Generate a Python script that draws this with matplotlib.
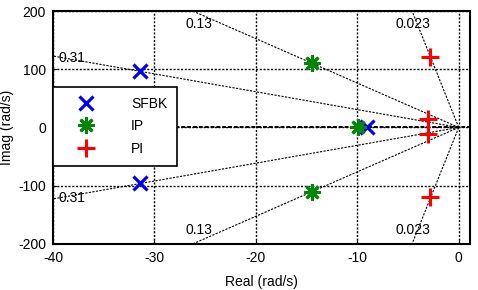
import matplotlib
matplotlib.use('Agg')
import matplotlib.pyplot as plt
import numpy as np

plt.rcParams['font.family'] = ['Liberation Sans', 'DejaVu Sans']
plt.rcParams['axes.unicode_minus'] = False

# pole locations (rad/s)
sfbk_re = [-31.4, -31.4, -9.0]
sfbk_im = [97, -96, 0]
ip_re = [-14.5, -14.5, -9.9]
ip_im = [111, -111, 0]
pi_re = [-2.8, -2.8, -3.0, -3.0]
pi_im = [121, -120, 14, -11]

zetas = [0.31, 0.13, 0.023]
zeta_labels = ['0.31', '0.13', '0.023']

xticks = [-40, -30, -20, -10, 0]
yticks = [-200, -100, 0, 100, 200]

fig = plt.figure(figsize=(4.78, 2.9), dpi=100)
ax = fig.add_axes([0.111, 0.159, 0.872, 0.803])

xmin, xmax = -40, 1.1
ymin, ymax = -200, 200

# lignes d'amortissement constant
for z in zetas:
    k = np.sqrt(1 - z**2) / z
    for s in (1, -1):
        x_end = max(xmin, -ymax / k)
        ax.plot([0, x_end], [0, s * k * (-x_end)], color='black', ls=(0, (2, 1.2)),
                lw=0.8, zorder=1)

# grille
for xt in xticks:
    ax.axvline(xt, color='black', ls=(0, (1.5, 1.2)), lw=1.0, zorder=1)
for yt in yticks:
    ax.axhline(yt, color='black', ls=(0, (1.5, 1.2)), lw=1.0, zorder=1)
ax.axhline(0, color='black', ls=(0, (2, 1)), lw=1.4, zorder=1)

# étiquettes
ax.text(-39.5, 120, zeta_labels[0], fontsize=10, va='center', ha='left')
ax.text(-39.5, -122, zeta_labels[0], fontsize=10, va='center', ha='left')
ax.text(-25.6, 178, zeta_labels[1], fontsize=10, va='center', ha='center')
ax.text(-25.6, -176, zeta_labels[1], fontsize=10, va='center', ha='center')
ax.text(-4.5, 178, zeta_labels[2], fontsize=10, va='center', ha='center')
ax.text(-4.5, -176, zeta_labels[2], fontsize=10, va='center', ha='center')

ax.plot(sfbk_re, sfbk_im, ls='none', marker='x', ms=9.5, mew=2.3, color='#0000ee',
        label='SFBK', zorder=3)
ax.plot(ip_re, ip_im, ls='none', marker=(8, 2, 0), ms=12, mew=2.0, color='#008800',
        label='IP', zorder=3)
ax.plot(pi_re, pi_im, ls='none', marker='+', ms=13, mew=2.2, color='#ff0000',
        label='PI', zorder=3)

ax.set_xlim(xmin, xmax)
ax.set_ylim(ymin, ymax)
ax.set_xticks(xticks)
ax.set_yticks(yticks)
ax.tick_params(labelsize=10, length=3, direction='in', pad=5)
for sp in ax.spines.values():
    sp.set_linewidth(1.5)
ax.set_xlabel('Real (rad/s)', fontsize=10, labelpad=7)
ax.set_ylabel('Imag (rad/s)', fontsize=10, labelpad=3)

leg = ax.legend(loc='upper left', bbox_to_anchor=(0.0, 0.674), fontsize=10,
                fancybox=False, framealpha=1, edgecolor='black',
                borderpad=0.7, labelspacing=0.62, handlelength=3.4, handletextpad=1.5,
                borderaxespad=0)
leg.get_frame().set_linewidth(1.2)

fig.savefig('out.png', dpi=100)
